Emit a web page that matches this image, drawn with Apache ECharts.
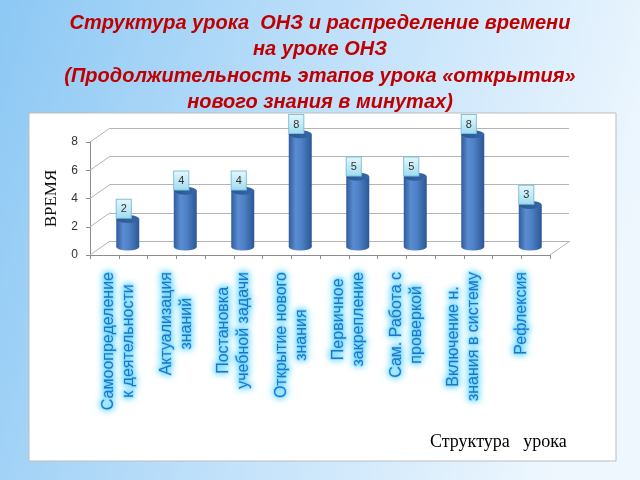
<!DOCTYPE html>
<html><head><meta charset="utf-8">
<script src="https://cdn.jsdelivr.net/npm/echarts@6/dist/echarts.min.js"></script>
<style>html,body{margin:0;padding:0;overflow:hidden}#c{width:640px;height:480px}</style>
</head><body><div id="c"></div>
<script>
const titleLines = ['Структура урока  ОНЗ и распределение времени', 'на уроке ОНЗ', '(Продолжительность этапов урока «открытия»', 'нового знания в минутах)'];
const categories = ['Самоопределение\nк деятельности', 'Актуализация\nзнаний', 'Постановка\nучебной задачи', 'Открытие нового\nзнания', 'Первичное\nзакрепление', 'Сам. Работа с\nпроверкой', 'Включение н.\nзнания в систему', 'Рефлексия'];
const durations = [2, 4, 4, 8, 5, 5, 8, 3];
const yTicks = [0, 2, 4, 6, 8];
const seriesName = 'Структура урока';
const axisName = 'ВРЕМЯ';

const DX = 20, DY = -14;
const chart = echarts.init(document.getElementById('c'));
const glow = { textShadowColor: 'rgba(60,200,255,1)', textShadowBlur: 7, textBorderColor: 'rgba(140,225,255,0.8)', textBorderWidth: 1.6 };
const bodyGrad = { type: 'linear', x: 0, y: 0, x2: 1, y2: 0, colorStops: [
  { offset: 0, color: '#305c9c' }, { offset: 0.3, color: '#5a8cd0' }, { offset: 0.55, color: '#4e81c6' }, { offset: 1, color: '#2b5794' }] };
const hidden = { show: false };

chart.setOption({
  backgroundColor: { type: 'linear', x: 0, y: 0, x2: 1, y2: 0.4, colorStops: [
    { offset: 0, color: '#8cc8f4' }, { offset: 0.5, color: '#bfe0fa' }, { offset: 1, color: '#eef7fe' }] },
  title: {
    text: titleLines.join('\n'), left: 'center', top: 5,
    textStyle: { fontFamily: 'Liberation Sans', fontSize: 20, fontStyle: 'italic', fontWeight: 'bold', color: '#c00000', lineHeight: 26.5 }
  },
  legend: {
    data: [seriesName], icon: 'none', itemWidth: 0, itemGap: 0, left: 420, top: 428, selectedMode: false,
    formatter: n => n.replace(' ', '   '),
    textStyle: { fontFamily: 'Liberation Serif', fontSize: 18, color: '#000' }
  },
  grid: [
    { left: 90, width: 460, top: 142, height: 113, z: 3 },
    { left: 99, width: 460, top: 134, height: 113, z: 3 },
    { left: 110, width: 459, top: 128, height: 113, z: 3 },
    { left: 29, right: 24, top: 113, bottom: 19, show: true, backgroundColor: '#ffffff', borderColor: '#bdbdbd', borderWidth: 1, z: 0 }
  ],
  xAxis: [
    { type: 'category', gridIndex: 0, position: 'bottom', data: categories, axisLine: hidden, axisTick: hidden,
      axisLabel: { interval: 0, rotate: 90, margin: 17,
        formatter: v => v.split('\n').map(l => '{c|' + l + '}').join('\n'),
        rich: { c: Object.assign({ align: 'center', fontFamily: 'Liberation Sans', fontSize: 16, lineHeight: 20, color: '#1f74c6' }, glow) } } },
    { type: 'value', gridIndex: 0, position: 'bottom', min: 0, max: 16, interval: 1, axisLabel: hidden, splitLine: hidden,
      axisLine: { show: true, onZero: false, lineStyle: { color: '#8c8c8c' } },
      axisTick: { show: true, length: 4, lineStyle: { color: '#8c8c8c' } } },
    { type: 'category', gridIndex: 1, data: categories, show: false },
    { type: 'value', gridIndex: 2, min: 0, max: 1, show: false },
    { type: 'value', gridIndex: 3, show: false }
  ],
  yAxis: [
    { type: 'value', gridIndex: 0, min: 0, max: 8, interval: 2, splitLine: hidden,
      axisLine: { show: true, lineStyle: { color: '#8c8c8c' } },
      axisTick: { show: true, length: 4, lineStyle: { color: '#8c8c8c' } },
      axisLabel: { margin: 12, fontFamily: 'Liberation Sans', fontSize: 12, color: '#333' },
      name: axisName, nameLocation: 'middle', nameGap: 26, nameRotate: 90,
      nameTextStyle: { fontFamily: 'Liberation Serif', fontSize: 17, color: '#111' } },
    { type: 'value', gridIndex: 1, min: 0, max: 8, show: false },
    { type: 'value', gridIndex: 2, min: 0, max: 8, interval: 2, axisLine: hidden, axisTick: hidden, axisLabel: hidden,
      splitLine: { show: true, lineStyle: { color: '#b4b4b4', width: 1 } } },
    { type: 'value', gridIndex: 3, show: false }
  ],
  series: [
    { type: 'custom', xAxisIndex: 1, yAxisIndex: 0, z: 3, silent: true,
      data: yTicks.map(v => [0, v]).concat([[16, 0]]),
      renderItem: (params, api) => {
        const p = api.coord([api.value(0), api.value(1)]);
        return { type: 'line', shape: { x1: p[0], y1: p[1], x2: p[0] + DX, y2: p[1] + DY }, style: { stroke: '#b4b4b4', lineWidth: 1 } };
      } },
    { type: 'pictorialBar', name: 'base', xAxisIndex: 2, yAxisIndex: 1, z: 4, data: durations,
      symbol: 'circle', symbolSize: [23, 7], symbolPosition: 'start', symbolOffset: [0, '50%'],
      itemStyle: { color: bodyGrad } },
    { type: 'bar', name: seriesName, xAxisIndex: 2, yAxisIndex: 1, z: 5, data: durations, barWidth: 23,
      itemStyle: { color: bodyGrad } },
    { type: 'pictorialBar', name: 'cap', xAxisIndex: 2, yAxisIndex: 1, z: 6, data: durations,
      symbol: 'circle', symbolSize: [23, 8], symbolPosition: 'end', symbolOffset: [0, '-50%'],
      itemStyle: { color: { type: 'linear', x: 0, y: 0, x2: 1, y2: 0, colorStops: [{ offset: 0, color: '#2c5793' }, { offset: 1, color: '#3766a6' }] },
        borderColor: '#7ea6da', borderWidth: 0.9 },
      label: { show: true, position: 'top', distance: -3, offset: [-4, 0], formatter: '{c}', color: '#333', fontFamily: 'Liberation Sans', fontSize: 11,
        backgroundColor: { type: 'linear', x: 0, y: 0, x2: 0, y2: 1, colorStops: [{ offset: 0, color: '#e6f8fd' }, { offset: 1, color: '#9fdcef' }] },
        borderColor: '#7cc2d8', borderWidth: 1, padding: [4, 4, 3, 4] } }
  ]
});
</script></body></html>
